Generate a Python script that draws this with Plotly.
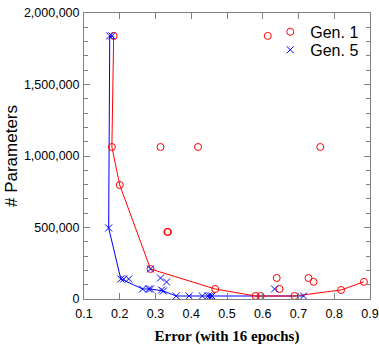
import plotly.graph_objects as go

# Gen. 1 : all evaluated networks
gen1_err = [0.183, 0.178, 0.200, 0.286, 0.467, 0.580, 0.594, 0.689, 0.819, 0.883,
            0.314, 0.419, 0.761, 0.614, 0.333, 0.335, 0.639, 0.647, 0.728, 0.742]
gen1_par = [1840000, 1063000, 797000, 210000, 70000, 21000, 21000, 21000, 63000, 120000,
            1063000, 1063000, 1063000, 1840000, 469000, 469000, 147000, 70000, 147000, 120000]
# Gen. 1 : Pareto front
gen1_front_err = [0.183, 0.178, 0.200, 0.286, 0.467, 0.580, 0.594, 0.689, 0.819, 0.883]
gen1_front_par = [1840000, 1063000, 797000, 210000, 70000, 21000, 21000, 21000, 63000, 120000]

# Gen. 5 : all evaluated networks
gen5_err = [0.172, 0.178, 0.169, 0.203, 0.211, 0.225, 0.264, 0.281, 0.286, 0.286,
            0.314, 0.331, 0.317, 0.322, 0.358, 0.394, 0.431, 0.447, 0.453, 0.458,
            0.633, 0.714]
gen5_par = [1840000, 1840000, 497000, 140000, 140000, 140000, 70000, 70000, 70000, 210000,
            147000, 119000, 63000, 56000, 21000, 21000, 21000, 21000, 21000, 21000,
            70000, 21000]
# Gen. 5 : Pareto front
gen5_front_err = [0.172, 0.169, 0.203, 0.264, 0.286, 0.322, 0.358, 0.394, 0.458, 0.714]
gen5_front_par = [1840000, 497000, 140000, 70000, 70000, 56000, 21000, 21000, 21000, 21000]

x_ticks = [0.1, 0.2, 0.3, 0.4, 0.5, 0.6, 0.7, 0.8, 0.9]
y_ticks = [0, 500000, 1000000, 1500000, 2000000]
y_tick_labels = ["0", "500,000", "1,000,000", "1,500,000", "2,000,000"]

RED = "#ff0000"
BLUE = "#0000ff"

fig = go.Figure()
fig.add_trace(go.Scatter(x=gen5_front_err, y=gen5_front_par, mode="lines",
                         line=dict(color=BLUE, width=1), showlegend=False, hoverinfo="skip"))
fig.add_trace(go.Scatter(x=gen1_front_err, y=gen1_front_par, mode="lines",
                         line=dict(color=RED, width=1), showlegend=False, hoverinfo="skip"))
fig.add_trace(go.Scatter(x=gen1_err, y=gen1_par, mode="markers", name="Gen. 1",
                         legend="legend",
                         marker=dict(symbol="circle-open", size=7, color=RED,
                                     line=dict(width=1, color=RED))))
fig.add_trace(go.Scatter(x=gen5_err, y=gen5_par, mode="markers", name="Gen. 5",
                         legend="legend2",
                         marker=dict(symbol="x-thin-open", size=7, color=BLUE,
                                     line=dict(width=1, color=BLUE))))

axis_common = dict(showgrid=False, zeroline=False, showline=True, linecolor="#808080",
                   linewidth=1, mirror="allticks", ticks="inside", tickcolor="#808080",
                   ticklabeloverflow="allow",
                   tickfont=dict(family="Liberation Sans, Arial", size=12.5, color="#000000"))

fig.update_xaxes(range=[0.1, 0.9], tickvals=x_ticks, ticktext=[f"{v:.1f}" for v in x_ticks],
                 ticklen=6, tickwidth=1, ticklabelstandoff=3,
                 title=dict(text="<b>Error (with 16 epochs)</b>", standoff=10,
                            font=dict(family="Liberation Serif, Times New Roman", size=15,
                                      color="#000000")),
                 **axis_common)
fig.update_yaxes(range=[0, 2000000], tickvals=y_ticks, ticktext=y_tick_labels,
                 ticklen=6, tickwidth=1, ticklabelstandoff=1,
                 minor=dict(dtick=100000, ticks="inside", ticklen=4, tickcolor="#808080"),
                 title=dict(text="# Parameters", standoff=1,
                            font=dict(family="Liberation Sans, Arial", size=17, color="#000000")),
                 **axis_common)

legend_common = dict(xanchor="right", yanchor="middle", bgcolor="rgba(0,0,0,0)",
                     borderwidth=0, itemwidth=30,
                     font=dict(family="Liberation Sans, Arial", size=16, color="#000000"))

fig.update_layout(
    width=379, height=345,
    margin=dict(l=84, r=9, t=13, b=46, autoexpand=False),
    paper_bgcolor="white", plot_bgcolor="white",
    legend=dict(x=0.98, y=0.934, **legend_common),
    legend2=dict(x=0.98, y=0.871, **legend_common),
)

fig.write_html("out.html", config={"displayModeBar": False})
